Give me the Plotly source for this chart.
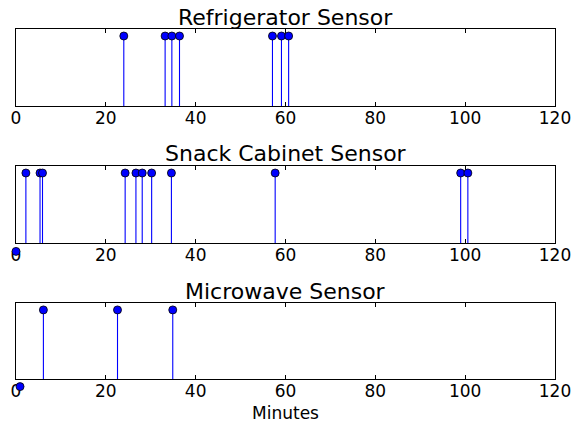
import plotly.graph_objects as go

# Data (minutes at which each sensor fired); value 1 = event
fridge_x = [24.0, 33.2, 34.7, 36.4, 57.1, 59.1, 60.7]
fridge_y = [1, 1, 1, 1, 1, 1, 1]

snack_x = [0.0, 2.2, 5.35, 5.9, 24.3, 26.7, 28.1, 30.2, 34.6, 57.7, 99.0, 100.6]
snack_y = [-0.12, 1, 1, 1, 1, 1, 1, 1, 1, 1, 1, 1]

micro_x = [0.9, 6.1, 22.6, 34.9]
micro_y = [-0.11, 1, 1, 1]

titles = ["Refrigerator Sensor", "Snack Cabinet Sensor", "Microwave Sensor"]
series = [(fridge_x, fridge_y), (snack_x, snack_y), (micro_x, micro_y)]
x_ticks = [0, 20, 40, 60, 80, 100, 120]

W, H = 579, 425
left_px, right_px = 16, 555
rows_px = [(29, 106), (166, 243), (303, 379)]
title_px = [17, 154, 291]
EXT = 16  # px of extra room below each box for out-of-range markers
YMAX = 1.1

FONT = "DejaVu Sans"
fig = go.Figure()

for i, ((xs, ys), (top, bot)) in enumerate(zip(series, rows_px)):
    n = i + 1
    xa = "x" if n == 1 else f"x{n}"
    ya = "y" if n == 1 else f"y{n}"
    ya_m = f"y{n + 3}"
    sx, sy = [], []
    for xv, yv in zip(xs, ys):
        sx += [xv, xv, None]
        sy += [0, yv, None]
    fig.add_trace(go.Scatter(x=sx, y=sy, mode="lines", xaxis=xa, yaxis=ya,
                             line=dict(color="#0000ff", width=1.1),
                             hoverinfo="skip", showlegend=False))
    fig.add_trace(go.Scatter(x=xs, y=ys, mode="markers", xaxis=xa, yaxis=ya_m,
                             cliponaxis=False,
                             marker=dict(color="#0000ff", size=8,
                                         line=dict(color="black", width=0.8)),
                             showlegend=False))
    h = bot - top
    axkey = "xaxis" if n == 1 else f"xaxis{n}"
    aykey = "yaxis" if n == 1 else f"yaxis{n}"
    fig.layout[axkey] = dict(
        domain=[left_px / W, right_px / W], range=[0, 120], anchor=ya,
        tickvals=x_ticks, ticktext=[str(t) for t in x_ticks],
        ticks="inside", ticklen=4, tickcolor="black", tickwidth=1,
        showline=True, linecolor="black", linewidth=1, mirror="ticks",
        showgrid=False, zeroline=False, automargin=False,
        ticklabelstandoff=-3,
        tickfont=dict(family=FONT, size=17, color="black"),
    )
    fig.layout[aykey] = dict(
        domain=[1 - bot / H, 1 - top / H], range=[0, YMAX], anchor=xa,
        showticklabels=False, ticks="",
        showline=True, linecolor="black", linewidth=1, mirror=True,
        showgrid=False, zeroline=False, automargin=False,
    )
    fig.layout[f"yaxis{n + 3}"] = dict(
        domain=[1 - (bot + EXT) / H, 1 - top / H],
        range=[-EXT * YMAX / h, YMAX], anchor="free", position=0,
        visible=False, showgrid=False, zeroline=False, automargin=False,
    )
    fig.add_annotation(text=titles[i], xref="paper", yref="paper",
                       x=(left_px + right_px) / 2 / W, y=1 - title_px[i] / H,
                       xanchor="center", yanchor="middle", showarrow=False,
                       font=dict(family=FONT, size=22, color="black"))

fig.layout["xaxis3"]["title"] = dict(text="Minutes", standoff=6,
                                     font=dict(family=FONT, size=17, color="black"))

fig.update_layout(width=W, height=H, margin=dict(l=0, r=0, t=0, b=0),
                  plot_bgcolor="rgba(0,0,0,0)", paper_bgcolor="white",
                  font=dict(family=FONT))
fig.write_html("out.html", config={"displayModeBar": False},
               post_script="document.body.style.margin='0';document.body.style.padding='0';")
